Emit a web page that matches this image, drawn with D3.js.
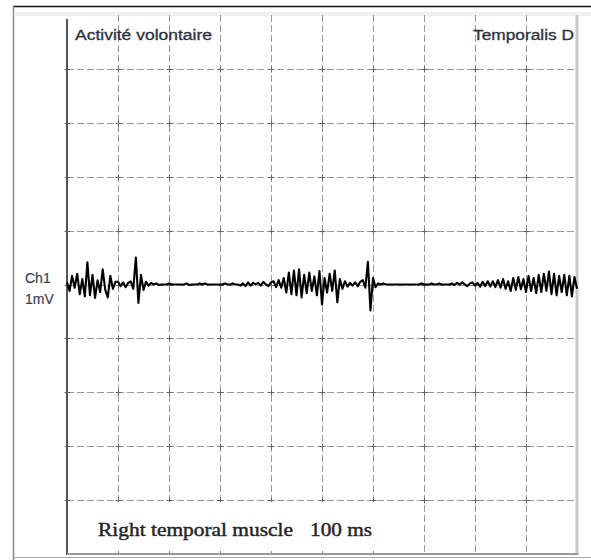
<!DOCTYPE html>
<html>
<head>
<meta charset="utf-8">
<script src="https://cdn.jsdelivr.net/npm/d3@7"></script>
<style>
  body { margin: 0; background: #fff; }
  svg { display: block; }
</style>
</head>
<body>
<svg id="chart" width="591" height="560"></svg>
<script>
// EMG trace, one value (mV) every 5 ms, from 0 to 1000 ms
const sampleStep = 5;
const emgTrace = [
  0.04, -0.12, 0.16, -0.06, 0.20, -0.18, 0.10, -0.22, 0.41, -0.20,
  0.18, -0.25, 0.08, -0.14, 0.28, -0.10, -0.24, 0.16, -0.08, 0.05,
  0.05, -0.03, 0.04, -0.05, 0.03, 0.06, -0.08, 0.50, -0.34, 0.18,
  -0.10, 0.05, -0.02, 0.03, 0.00, 0.02, -0.01, 0.00, 0.00, 0.00,
  0.02, 0.00, 0.00, 0.00, 0.00, 0.00, 0.00, 0.02, -0.01, 0.00,
  0.00, 0.00, 0.02, 0.00, 0.02, 0.00, 0.00, 0.00, 0.00, 0.00,
  0.00, 0.00, 0.02, 0.00, 0.00, 0.02, 0.00, 0.00, -0.02, 0.02,
  -0.03, 0.04, -0.02, 0.03, 0.00,
  0.03, -0.02, 0.05, 0.00, -0.03, 0.04, 0.06, -0.05, 0.08, -0.06,
  0.12, -0.15, 0.22, -0.18, 0.26, -0.20, 0.28, -0.24, 0.18, -0.16,
  0.22, -0.12, 0.15, -0.20, 0.25, -0.37, 0.12, -0.15, 0.20, -0.12,
  0.26, -0.33, 0.10, -0.08, 0.06, -0.04,
  0.03, -0.02, 0.04, -0.03, 0.05, 0.08, -0.06, 0.42, -0.48, 0.12, -0.05,
  0.02, 0.00, 0.02, 0.00, 0.00, 0.00, 0.00, 0.00, 0.00, 0.00,
  0.00, 0.00, 0.00, 0.00, 0.00, 0.00, 0.00, 0.02, 0.00, 0.00,
  0.00, 0.02, 0.00, 0.00, 0.02, 0.00, 0.00, 0.00, 0.00, 0.02,
  -0.01, 0.03, 0.00, 0.04, 0.00, -0.03, 0.02, 0.04, -0.02, 0.03,
  -0.04, 0.05, -0.03, 0.06,
  -0.04, 0.06, -0.05, 0.08, -0.06, 0.10, -0.08, 0.06, -0.12, 0.12,
  -0.10, 0.14, -0.09, 0.10, -0.14, 0.16, -0.12, 0.12, -0.16, 0.18,
  -0.14, 0.20, -0.12, 0.24, -0.18, 0.20, -0.20, 0.16, -0.14, 0.18,
  -0.20, 0.16, -0.22, 0.14, -0.08
];

const timeDivisions = d3.range(0, 1001, 100);   // ms
const voltDivisions = d3.range(-5, 6, 1);       // mV
const titleLeft = "Activité volontaire";
const titleRight = "Temporalis D";
const channelLabels = ["Ch1", "1mV"];
const captionMuscle = "Right temporal muscle";
const captionScale = "100 ms";

const svg = d3.select("#chart");

const x = d3.scaleLinear().domain([0, 1000]).range([67, 577]);
const y = d3.scaleLinear().domain([-5, 5]).range([554, 15]);

// outer frame
svg.append("line")
  .attr("x1", 13).attr("x2", 591).attr("y1", 6.5).attr("y2", 6.5)
  .attr("stroke", "#111").attr("stroke-width", 1.6);
svg.append("line")
  .attr("x1", 13.5).attr("x2", 13.5).attr("y1", 6).attr("y2", 560)
  .attr("stroke", "#888").attr("stroke-width", 1.5);
svg.append("line")
  .attr("x1", 13).attr("x2", 591).attr("y1", 557.5).attr("y2", 557.5)
  .attr("stroke", "#aaa").attr("stroke-width", 1);

// faint band above the graticule
svg.append("rect")
  .attr("x", 14).attr("y", 12).attr("width", 577).attr("height", 4)
  .attr("fill", "#f0f0f0");

// graticule
const grid = svg.append("g").attr("stroke", "#999").attr("stroke-width", 1);

grid.selectAll("line.v")
  .data(timeDivisions.slice(1, -1))
  .enter()
  .append("line")
  .attr("class", "v")
  .attr("x1", d => Math.round(x(d)) + 0.5)
  .attr("x2", d => Math.round(x(d)) + 0.5)
  .attr("y1", y(5))
  .attr("y2", y(-5))
  .attr("stroke-dasharray", "7,3");

grid.selectAll("line.h")
  .data(voltDivisions.slice(1, -1))
  .enter()
  .append("line")
  .attr("class", "h")
  .attr("x1", x(0))
  .attr("x2", x(1000))
  .attr("y1", d => Math.round(y(d)) + 0.5)
  .attr("y2", d => Math.round(y(d)) + 0.5)
  .attr("stroke-dasharray", "7,3");

// small crosses where the graticule lines meet
const crossings = [];
timeDivisions.slice(0, -1).forEach(t =>
  voltDivisions.slice(1, -1).forEach(v => crossings.push([t, v]))
);
grid.selectAll("path.cross")
  .data(crossings)
  .enter()
  .append("path")
  .attr("class", "cross")
  .attr("stroke", "#666")
  .attr("d", d => {
    const cx = Math.round(x(d[0])) + 0.5, cy = Math.round(y(d[1])) + 0.5;
    return `M${cx - 3},${cy}H${cx + 3}M${cx},${cy - 3}V${cy + 3}`;
  });

// caption box at the bottom left
svg.append("rect")
  .attr("x", x(0) + 1)
  .attr("y", Math.round(y(-4)) + 2)
  .attr("width", x(650) - x(0))
  .attr("height", y(-5) - y(-4) - 3)
  .attr("fill", "#fff");

svg.append("g")
  .selectAll("line")
  .data(timeDivisions.slice(1, 7))
  .enter()
  .append("line")
  .attr("x1", d => Math.round(x(d)) + 0.5)
  .attr("x2", d => Math.round(x(d)) + 0.5)
  .attr("y1", y(-5) - 3)
  .attr("y2", y(-5))
  .attr("stroke", "#888");

// graticule border
svg.append("line")
  .attr("x1", x(0)).attr("x2", x(0)).attr("y1", y(5) + 4).attr("y2", y(-5) + 1)
  .attr("stroke", "#555").attr("stroke-width", 2);
svg.append("line")
  .attr("x1", x(1000)).attr("x2", x(1000)).attr("y1", y(5)).attr("y2", y(-5) + 1)
  .attr("stroke", "#c8c8c8").attr("stroke-width", 3);
svg.append("line")
  .attr("x1", x(0)).attr("x2", x(1000) + 1).attr("y1", y(-5)).attr("y2", y(-5))
  .attr("stroke", "#9a9a9a").attr("stroke-width", 2);

// EMG trace
const line = d3.line()
  .x((d, i) => x(i * sampleStep))
  .y(d => y(d));

svg.append("path")
  .datum(emgTrace)
  .attr("fill", "none")
  .attr("stroke", "#000")
  .attr("stroke-width", 2.1)
  .attr("stroke-linejoin", "round")
  .attr("d", line);

// texts
const sans = "Liberation Sans, Arial, sans-serif";
const serif = "Liberation Serif, Times New Roman, serif";

svg.append("text")
  .attr("x", 75).attr("y", 40)
  .attr("font-family", sans)
  .attr("font-size", 14)
  .attr("fill", "#2e3040")
  .attr("stroke", "#2e3040").attr("stroke-width", 0.3)
  .attr("textLength", 137)
  .attr("lengthAdjust", "spacingAndGlyphs")
  .text(titleLeft);

svg.append("text")
  .attr("x", 473).attr("y", 40)
  .attr("font-family", sans)
  .attr("font-size", 14)
  .attr("fill", "#2e3040")
  .attr("stroke", "#2e3040").attr("stroke-width", 0.3)
  .attr("textLength", 101)
  .attr("lengthAdjust", "spacingAndGlyphs")
  .text(titleRight);

svg.append("g")
  .selectAll("text")
  .data(channelLabels)
  .enter()
  .append("text")
  .attr("x", 25)
  .attr("y", (d, i) => 283 + i * 21)
  .attr("font-family", sans)
  .attr("font-size", 14)
  .attr("fill", "#3a3f55")
  .attr("stroke", "#3a3f55").attr("stroke-width", 0.2)
  .text(d => d);

svg.append("text")
  .attr("x", 98).attr("y", 536)
  .attr("font-family", serif)
  .attr("font-size", 18)
  .attr("fill", "#222")
  .attr("stroke", "#222").attr("stroke-width", 0.4)
  .attr("textLength", 195)
  .attr("lengthAdjust", "spacingAndGlyphs")
  .text(captionMuscle);

svg.append("text")
  .attr("x", 310).attr("y", 536)
  .attr("font-family", serif)
  .attr("font-size", 18)
  .attr("fill", "#222")
  .attr("stroke", "#222").attr("stroke-width", 0.4)
  .attr("textLength", 62)
  .attr("lengthAdjust", "spacingAndGlyphs")
  .text(captionScale);
</script>
</body>
</html>
